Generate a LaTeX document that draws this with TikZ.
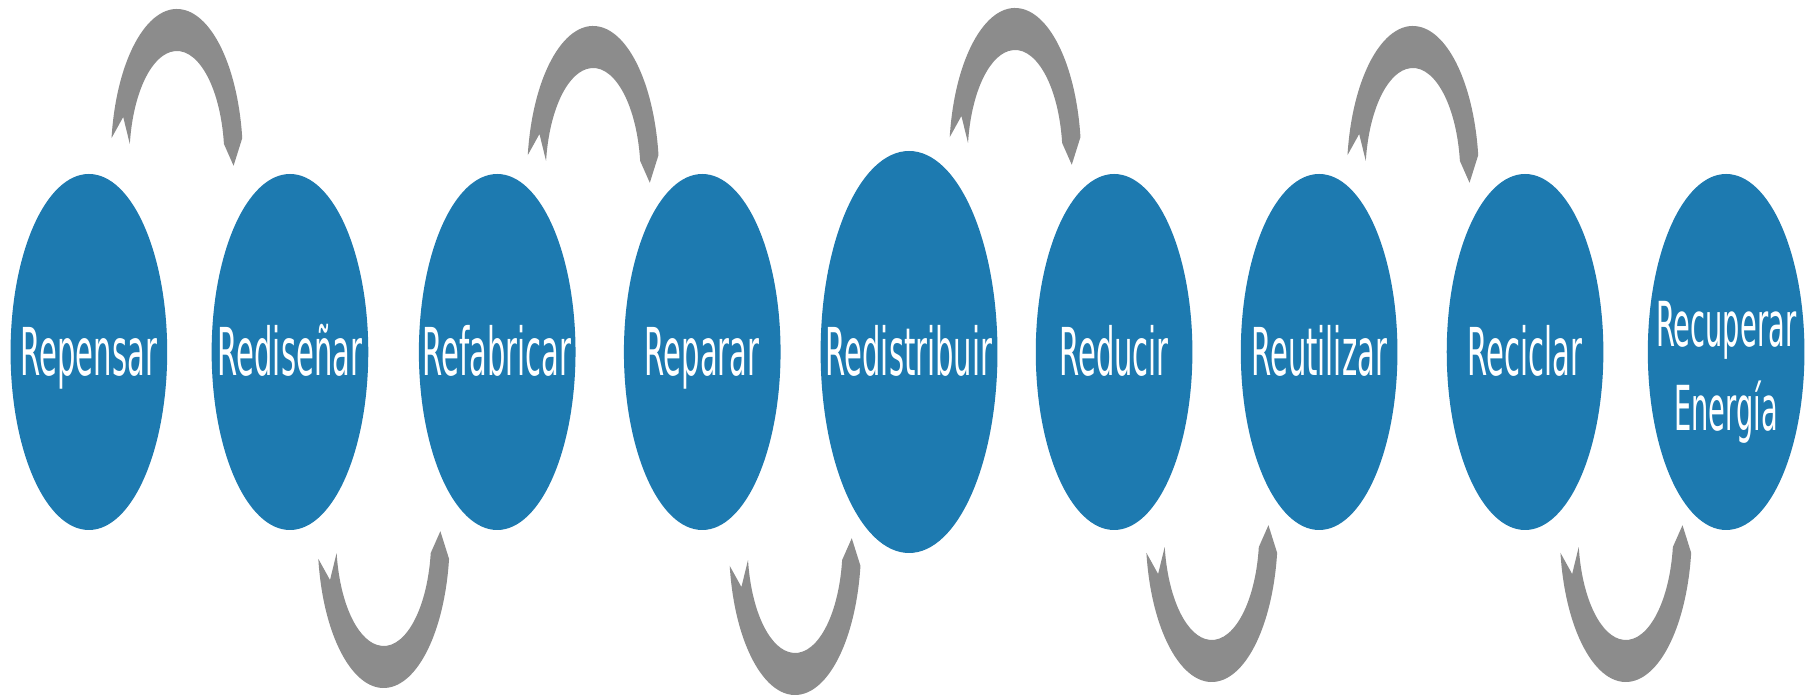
\documentclass[tikz,border=0pt]{standalone}
\usepackage{fontspec}
\setmainfont{DejaVu Sans}
\definecolor{cycle-blue}{HTML}{1D7AB0}
\definecolor{cycle-gray}{HTML}{8C8C8C}
\tikzset{
  stage/.style={circle, fill=cycle-blue, text=white, inner sep=0pt, minimum size=178pt, transform shape,
    font=\fontsize{33}{44}\selectfont, text height=24pt, text depth=0pt},
  big stage/.style={stage, minimum size=201pt},
  stage text/.style={text=white, inner sep=0pt, transform shape,
    font=\fontsize{31}{41}\selectfont, text height=22.5pt, text depth=0pt},
  pics/loop arrow/.style={code={
    \begin{scope}[yscale=#1]
    \fill[cycle-gray] (172:150) arc[start angle=172, end angle=8, radius=150] -- (-3:129) -- (8:108)
      arc[start angle=8, end angle=172, radius=108] -- (161:129) -- cycle;
    \end{scope}
  }}
}

\begin{document}
\begin{tikzpicture}[x=0.5pt, y=0.5pt]
\useasboundingbox[fill=white] (0,0) rectangle (1816,695);
\begin{scope}[xscale=0.44]
\node[stage] (repensar) at (202,343) {Repensar};
\node[stage] (redisenar) at (659,343) {Rediseñar};
\node[stage] (refabricar) at (1130,343) {Refabricar};
\node[stage] (reparar) at (1596,343) {Reparar};
\node[big stage] (redistribuir) at (2066,343) {Redistribuir};
\node[stage] (reducir) at (2532,343) {Reducir};
\node[stage] (reutilizar) at (2998,343) {Reutilizar};
\node[stage] (reciclar) at (3466,343) {Reciclar};
\node[stage] (recuperar) at (3923,343) {};
\node[stage text] (recuperar-a) at ([yshift=13.75pt]recuperar.center) {Recuperar};
\node[stage text] (recuperar-b) at ([yshift=-28.25pt]recuperar.center) {Energía};
% arrows above
\pic[transform shape] at (402,536) {loop arrow=1};
\pic[transform shape] at (1348,519) {loop arrow=1};
\pic[transform shape] at (2307,537) {loop arrow=1};
\pic[transform shape] at (3211,519) {loop arrow=1};
% arrows below
\pic[transform shape] at (872,157) {loop arrow=-1};
\pic[transform shape] at (1807,150) {loop arrow=-1};
\pic[transform shape] at (2754,163) {loop arrow=-1};
\pic[transform shape] at (3695,163) {loop arrow=-1};
\end{scope}
\end{tikzpicture}
\end{document}
